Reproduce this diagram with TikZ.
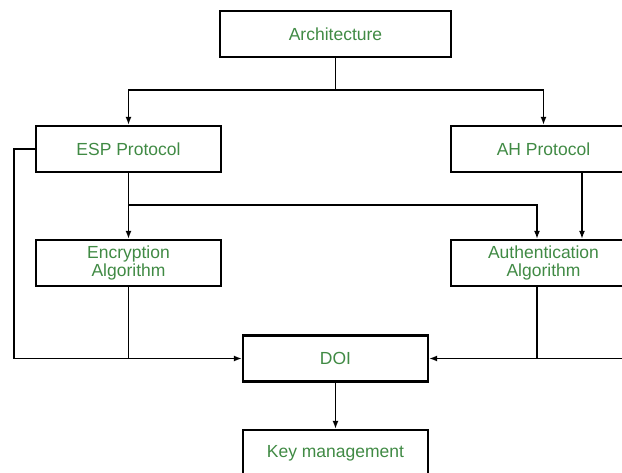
\documentclass[tikz,border=0pt]{standalone}
\usepackage{fontspec}
\setmainfont{Liberation Sans}
\usetikzlibrary{arrows.meta, positioning, calc}
\definecolor{labelgreen}{RGB}{64,138,68}

\begin{document}
\begin{tikzpicture}[x=1pt, y=-1pt,
  box/.style={draw, line width=2.4pt, minimum width=185pt, minimum height=46pt, inner sep=0pt,
    align=center, text=labelgreen, font=\fontsize{17.5}{18}\selectfont},
  wire/.style={line width=1.4pt},
  link/.style={wire, -{Latex[length=8pt,width=6pt]}}]
  \useasboundingbox (0,0) rectangle (622,472);
  \clip (0,0) rectangle (622,472);

  \node[box, minimum width=231pt] (arch) at (335.5,34) {Architecture};
  \node[box] (esp) at (128.5,149) {ESP Protocol};
  \node[box] (ah) at (543.5,149) {AH Protocol};
  \node[box] (enc) at (128.5,263) {Encryption\\Algorithm};
  \node[box] (auth) at (543.5,263) {Authentication\\Algorithm};
  \node[box] (doi) at (335.5,358.5) {DOI};
  \node[box] (key) at (335.5,453) {Key management};

  % top split
  \coordinate (split) at (335.5,90);
  \draw[wire] (arch.south) -- (split);
  \draw[link] (split) -| (esp.north);
  \draw[link] (split) -| (ah.north);

  % protocols to algorithms
  \coordinate (fork) at (128.5,205);
  \draw[link] (esp.south) -- (enc.north);
  \draw[link] (fork) -| ([xshift=-6.5pt]auth.north);
  \draw[link] ([xshift=38.5pt]ah.south) -- ([xshift=38.5pt]auth.north);

  % into DOI
  \coordinate (loop) at (14,358.5);
  \coordinate (redge) at (622,358.5);
  \draw[link] (esp.west) -| (loop) -- (doi.west);
  \draw[wire] (enc.south) -- (enc.south |- doi.west);
  \draw[link] (redge) -- (doi.east);
  \draw[wire] ([xshift=-6.5pt]auth.south) -- ([xshift=-6.5pt]auth.south |- doi.east);

  \draw[link] (doi.south) -- (key.north);
\end{tikzpicture}
\end{document}
